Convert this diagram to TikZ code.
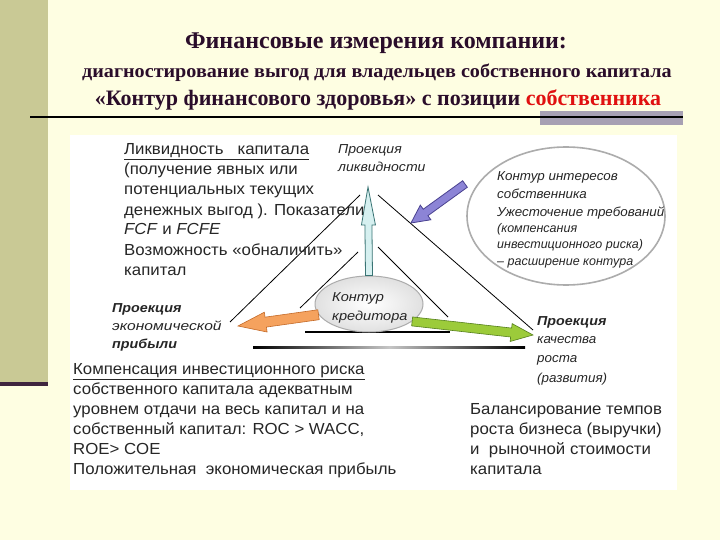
\documentclass[tikz,border=0pt]{standalone}
\usepackage{graphicx}
\usepackage{fontspec}
\setmainfont{Liberation Serif}
\setsansfont{Liberation Sans}
\usetikzlibrary{calc,shapes.geometric}
\definecolor{bg}{HTML}{FEFEE2}
\definecolor{olivebar}{HTML}{C9C995}
\definecolor{ttl}{HTML}{2A0D2A}
\definecolor{barg}{HTML}{A7A0B3}
\definecolor{redw}{HTML}{E01010}
\definecolor{txt}{HTML}{262626}
\definecolor{purf}{HTML}{8C84D6}
\definecolor{purd}{HTML}{4A4290}
\definecolor{orf}{HTML}{F5A25E}
\definecolor{ord}{HTML}{C46A28}
\definecolor{grf}{HTML}{9CCB3A}
\definecolor{grd}{HTML}{557F1C}
\definecolor{cyf}{HTML}{D6F0F0}
\definecolor{cyd}{HTML}{3A7474}
\newcommand\fatarr[6]{%
 \coordinate (fH) at ($(#2)!#5!(#1)$);
 \filldraw[#6] ($(#1)!#3!90:(#2)$) -- ($(fH)!#3!90:(#2)$) -- ($(fH)!#4!90:(#2)$) -- (#2) -- ($(fH)!#4!-90:(#2)$) -- ($(fH)!#3!-90:(#2)$) -- ($(#1)!#3!-90:(#2)$) -- cycle;}
\newcommand\sx[2]{\scalebox{#1}[1]{#2}}
\newcommand\bt[1]{\scalebox{1.05}[1]{#1}}
\tikzset{
 body/.style={font=\sffamily\fontsize{16}{18}\selectfont, text=txt, inner sep=0pt, anchor=base west},
 small/.style={font=\sffamily\itshape\fontsize{13}{15}\selectfont, text=txt, inner sep=0pt, anchor=base west},
 smallb/.style={small, font=\sffamily\itshape\bfseries\fontsize{13}{15}\selectfont},
 tiny/.style={font=\sffamily\itshape\fontsize{12.5}{14}\selectfont, text=txt, inner sep=0pt, anchor=base west},
 ttlstyle/.style={text=ttl, inner sep=0pt, anchor=base, font=\bfseries},
 thinline/.style={draw=black, line width=0.8pt},
}
\begin{document}
\begin{tikzpicture}[x=1pt,y=-1pt]
\useasboundingbox (0,0) rectangle (720,540);
\fill[bg] (0,0) rectangle (720,540);
\fill[olivebar] (0,0) rectangle (48,382);
\fill[ttl!90] (0,382) rectangle (48,386);
\fill[barg] (540,111) rectangle (683,125);
\draw[black, line width=2.5pt] (30,117) -- (683,117);
\fill[white] (70,135) rectangle (677,490);

% titles
\node[ttlstyle, font=\bfseries\fontsize{24}{26}\selectfont] (t1) at (376,49) {Финансовые измерения компании:};
\node[ttlstyle, font=\bfseries\fontsize{19}{21}\selectfont] (t2) at (377,78) {\sx{1.06}{диагностирование выгод для владельцев собственного капитала}};
\node[ttlstyle, font=\bfseries\fontsize{22}{24}\selectfont] (t3) at (378,106) {«Контур финансового здоровья» с позиции \textcolor{redw}{собственника}};

% triangle lines
\draw[thinline] (230,322) -- (360,195);
\draw[thinline] (378,195) -- (533,330);
\draw[thinline] (300,308) -- (358,252);
\draw[thinline] (378,247) -- (448,317);
\draw[black, line width=2pt] (305,332) -- (450,332);
\shade[left color=black, right color=black, middle color=gray!45] (253,346) rectangle (525,348.5);

% nodes
\node[ellipse, draw=gray!65, line width=1.6pt, fill=white, minimum width=198pt, minimum height=138pt] (own) at (566,216) {};
\node[ellipse, draw=gray!65, line width=1pt, inner color=white, outer color=gray!24, minimum width=108pt, minimum height=56pt] (cred) at (369,304) {};
\coordinate (vtip) at (368,187);
\coordinate (ltip) at (238,326);
\coordinate (rtip) at (533,335);
\coordinate (ptip) at (411,223);
\coordinate (ptail) at (465,184);

\fatarr{cred.north}{vtip}{3.5pt}{7pt}{38pt}{fill=cyf, draw=cyd, line width=0.8pt}
\fatarr{cred.192}{ltip}{5pt}{10pt}{28pt}{fill=orf, draw=ord, line width=0.6pt}
\fatarr{cred.-22}{rtip}{4.5pt}{9pt}{22pt}{fill=grf, draw=grd, line width=0.6pt}
\fatarr{ptail}{ptip}{4pt}{9pt}{18pt}{fill=purf, draw=purd, line width=0.8pt}

% credit ellipse text
\node[small] (c1) at (332,301) {\sx{1.12}{Контур}};
\node[small] (c2) at (332,320) {\sx{1.12}{кредитора}};

% top-left block
\node[body] (a1) at (124,155) {\bt{\underline{Ликвидность\ \ \ капитала}}};
\node[body] (a2) at (124,175) {\bt{(получение явных или}};
\node[body] (a3) at (124,195) {\bt{потенциальных текущих}};
\node[body] (a4) at (124,215) {\bt{денежных выгод ). Показатели}};
\node[body] (a5) at (124,235) {\bt{\textit{FCF} и \textit{FCFE}}};
\node[body] (a6) at (124,255) {\bt{Возможность «обналичить»}};
\node[body] (a7) at (124,275) {\bt{капитал}};

% projection of liquidity
\node[small] (p1) at (338,154) {\sx{1.08}{Проекция}};
\node[small] (p2) at (338,172) {\sx{1.08}{ликвидности}};

% owner ellipse text
\node[small] (o1) at (497,181) {\sx{1.03}{Контур интересов}};
\node[small] (o2) at (497,199) {\sx{1.03}{собственника}};
\node[small] (o3) at (497,217) {\sx{1.03}{Ужесточение требований}};
\node[tiny] (o4) at (497,233) {(компенсания};
\node[tiny] (o5) at (497,248) {инвестиционного риска)};
\node[tiny] (o6) at (497,265) {– расширение контура};

% left projection
\node[smallb] (e1) at (112,312) {\sx{1.1}{Проекция}};
\node[small] (e2) at (112,330) {\sx{1.2}{экономической}};
\node[smallb] (e3) at (112,348) {\sx{1.1}{прибыли}};

% right projection
\node[smallb] (g1) at (537,325) {\sx{1.1}{Проекция}};
\node[small] (g2) at (537,343) {\sx{1.03}{качества}};
\node[small] (g3) at (537,362) {\sx{1.03}{роста}};
\node[small] (g4) at (537,382) {\sx{1.03}{(развития)}};

% bottom-left block
\node[body] (b1) at (73,374) {\bt{\underline{Компенсация инвестиционного риска}}};
\node[body] (b2) at (73,394) {\bt{собственного капитала адекватным}};
\node[body] (b3) at (73,414) {\bt{уровнем отдачи на весь капитал и на}};
\node[body] (b4) at (73,434) {\bt{собственный капитал: ROC > WACC,}};
\node[body] (b5) at (73,454) {\bt{ROE> COE}};
\node[body] (b6) at (73,474) {\bt{Положительная\ \ экономическая прибыль}};

% bottom-right block
\node[body] (r1) at (470,414) {\bt{Балансирование темпов}};
\node[body] (r2) at (470,434) {\bt{роста бизнеса (выручки)}};
\node[body] (r3) at (470,454) {\bt{и\ \ рыночной стоимости}};
\node[body] (r4) at (470,474) {\bt{капитала}};
\end{tikzpicture}
\end{document}
